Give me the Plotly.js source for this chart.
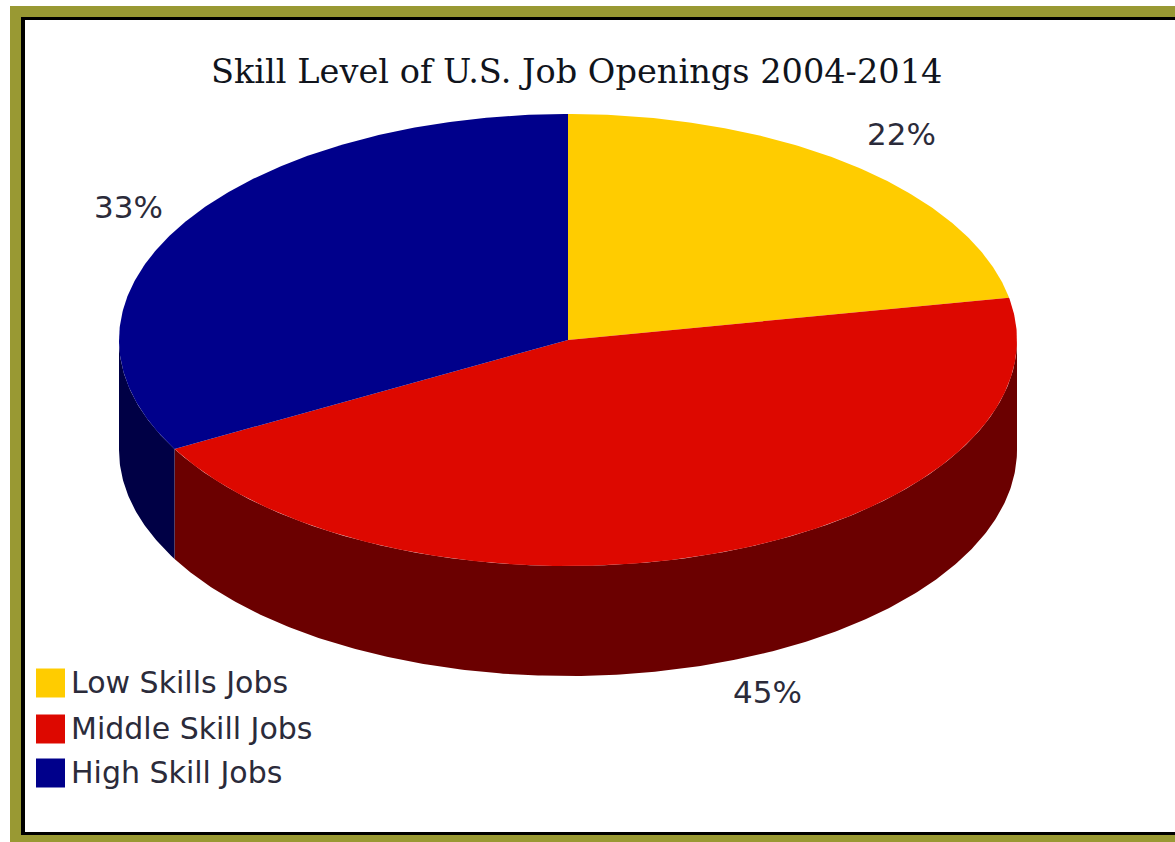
<!DOCTYPE html>
<html><head><meta charset="utf-8">
<script src="https://cdn.plot.ly/plotly-3.0.1.min.js"></script>
<style>html,body{margin:0;padding:0;background:#fff}</style></head>
<body><div id="chart" style="width:1175px;height:842px"></div>
<script>
var categories = ["Low Skills Jobs", "Middle Skill Jobs", "High Skill Jobs"];
var shares = [22, 45, 33];
var topColors = ["#ffcc00", "#dd0800", "#00008b"];
var sideColors = ["#7f6600", "#6b0000", "#000045"];
var titleText = "Skill Level of U.S. Job Openings 2004-2014";

var cx = 568, cy = 340, rx = 449, ry = 226, depth = 110;
function pt(frac, dy) {
  var a = frac * 2 * Math.PI;
  return [cx + rx * Math.sin(a), cy - ry * Math.cos(a) + (dy || 0)];
}
function arc(f0, f1, dy) {
  var out = [], n = Math.max(2, Math.ceil((f1 - f0) * 720));
  for (var i = 0; i <= n; i++) out.push(pt(f0 + (f1 - f0) * i / n, dy));
  return out;
}
var traces = [], bounds = [], acc = 0;
shares.forEach(function (s) { bounds.push([acc / 100, (acc + s) / 100]); acc += s; });

function poly(points, color) {
  traces.push({
    type: "scatter", mode: "lines", fill: "toself", fillcolor: color,
    x: points.map(function (p) { return p[0]; }),
    y: points.map(function (p) { return p[1]; }),
    line: { width: 0, color: color }, hoverinfo: "skip", showlegend: false
  });
}
// Side wall: only the front half (fractions 0.25 to 0.75) is visible
bounds.forEach(function (b, i) {
  var f0 = Math.max(b[0], 0.25), f1 = Math.min(b[1], 0.75);
  if (f1 > f0) poly(arc(f0, f1, 0).concat(arc(f0, f1, depth).reverse()), sideColors[i]);
});
// Top face
bounds.forEach(function (b, i) {
  poly([[cx, cy]].concat(arc(b[0], b[1], 0)).concat([[cx, cy]]), topColors[i]);
});
// Legend swatches with labels
var legendY = [683, 729, 773];
categories.forEach(function (c, i) {
  traces.push({
    type: "scatter", mode: "markers", x: [50.5], y: [legendY[i]], name: c,
    marker: { symbol: "square", size: 29, color: topColors[i], line: { width: 0 } },
    hoverinfo: "skip", showlegend: false
  });
  traces.push({
    type: "scatter", mode: "text", x: [71], y: [legendY[i] + 2], text: [c],
    textposition: "middle right", cliponaxis: false,
    textfont: { family: "DejaVu Sans, sans-serif", size: 30, color: "#2b2b3a" },
    hoverinfo: "skip", showlegend: false
  });
});

var labelPos = [[901, 134], [767, 692], [128, 207]];
var annotations = shares.map(function (s, i) {
  return { x: labelPos[i][0], y: labelPos[i][1], xref: "x", yref: "y", text: s + "%", showarrow: false,
    xanchor: "center", yanchor: "middle", font: { family: "DejaVu Sans, sans-serif", size: 31, color: "#2b2b3a" } };
});
annotations.push({ x: 576, y: 71, xref: "x", yref: "y", text: titleText, showarrow: false,
  xanchor: "center", yanchor: "middle", font: { family: "DejaVu Serif, serif", size: 33.6, color: "#10141c" } });

var frame = [
  { type: "rect", xref: "x", yref: "y", x0: 10, x1: 1185, y0: 6, y1: 842, fillcolor: "#999933", line: { width: 0 }, layer: "below" },
  { type: "rect", xref: "x", yref: "y", x0: 21, x1: 1185, y0: 17, y1: 835, fillcolor: "#000000", line: { width: 0 }, layer: "below" },
  { type: "rect", xref: "x", yref: "y", x0: 25, x1: 1185, y0: 20, y1: 832, fillcolor: "#ffffff", line: { width: 0 }, layer: "below" }
];

Plotly.newPlot("chart", traces, {
  width: 1175, height: 842, margin: { l: 0, r: 0, t: 0, b: 0 },
  paper_bgcolor: "#ffffff", plot_bgcolor: "rgba(0,0,0,0)",
  xaxis: { range: [0, 1175], visible: false, fixedrange: true },
  yaxis: { range: [842, 0], visible: false, fixedrange: true },
  shapes: frame, annotations: annotations, showlegend: false
}, { displayModeBar: false });
</script></body></html>
